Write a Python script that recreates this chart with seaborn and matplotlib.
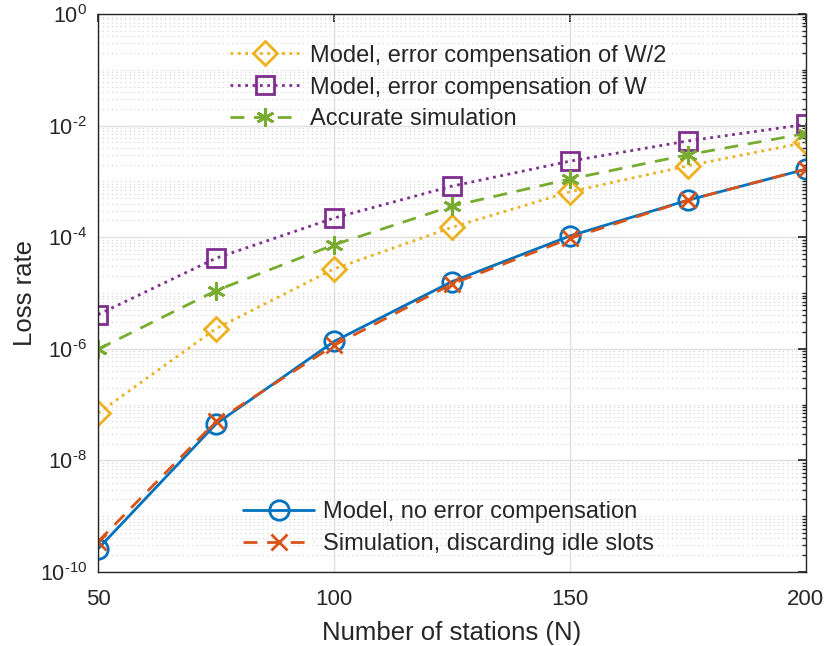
import numpy as np
import pandas as pd
import matplotlib
matplotlib.use("Agg")
import matplotlib.pyplot as plt
import matplotlib.ticker as mticker
import seaborn as sns

stations = [50, 75, 100, 125, 150, 175, 200]

model_half_w = [7e-8, 2.3e-6, 2.7e-5, 1.5e-4, 6.5e-4, 1.9e-3, 5.0e-3]
model_w = [4.1e-6, 4.2e-5, 2.2e-4, 8.2e-4, 2.3e-3, 5.3e-3, 1.05e-2]
accurate_sim = [9.8e-7, 1.1e-5, 7.3e-5, 3.6e-4, 1.1e-3, 3.0e-3, 7.2e-3]
model_no_comp = [2.6e-10, 4.5e-8, 1.35e-6, 1.6e-5, 1.05e-4, 4.6e-4, 1.65e-3]
sim_discard = [3.5e-10, 5.0e-8, 1.15e-6, 1.45e-5, 9.5e-5, 4.6e-4, 1.65e-3]

labels_top = ["Model, error compensation of W/2",
              "Model, error compensation of W",
              "Accurate simulation"]
labels_bottom = ["Model, no error compensation",
                 "Simulation, discarding idle slots"]

sns.set_theme(style="white")
plt.rcParams["font.family"] = ["Liberation Sans", "DejaVu Sans"]
plt.rcParams["mathtext.fontset"] = "custom"
plt.rcParams["mathtext.rm"] = "Liberation Sans"
plt.rcParams["mathtext.default"] = "regular"

fig = plt.figure(figsize=(8.24, 6.46), dpi=100)
ax = fig.add_axes([0.119, 0.1146, 0.859, 0.8638])

series = [
    (model_half_w, labels_top[0], "#EDB120", ":", "D", 12.5),
    (model_w, labels_top[1], "#7E2F8E", ":", "s", 13),
    (accurate_sim, labels_top[2], "#77AC30", (0, (5, 3.5)), (6, 2, 0), 13),
    (model_no_comp, labels_bottom[0], "#0072BD", "-", "o", 14),
    (sim_discard, labels_bottom[1], "#D95319", (0, (5, 3.5)), "x", 12),
]

handles = []
for vals, lab, col, ls, mk, ms in series:
    df = pd.DataFrame({"N": stations, "loss": vals})
    sns.lineplot(data=df, x="N", y="loss", ax=ax, color=col, linestyle=ls,
                 marker=mk, markersize=ms, markerfacecolor="none",
                 markeredgecolor=col, markeredgewidth=2, linewidth=2,
                 label=lab, legend=False)
    handles.append(ax.get_lines()[-1])

ax.set_yscale("log")
ax.set_xlim(50, 200)
ax.set_ylim(1e-10, 1e0)
ax.set_xticks([50, 100, 150, 200])
ax.set_yticks([10.0 ** k for k in range(-10, 1, 2)])
ax.yaxis.set_major_formatter(mticker.FuncFormatter(
    lambda v, p: "$10^{%s}$" % str(round(np.log10(v))).replace("-", "\u2010")))
ax.yaxis.set_minor_locator(mticker.LogLocator(base=10, subs=np.arange(1, 10), numticks=50))
ax.yaxis.set_minor_formatter(mticker.NullFormatter())

ax.grid(True, which="major", color="#e0e0e0", linestyle="-", linewidth=1.0)
ax.grid(True, which="minor", axis="y", color="#d2d2d2", linestyle=(0, (1, 3)), linewidth=0.8)
ax.set_axisbelow(True)

for sp in ax.spines.values():
    sp.set_color("#262626")
    sp.set_linewidth(1.0)
ax.tick_params(which="both", direction="in", top=True, right=True, colors="#262626",
               labelsize=16)
ax.tick_params(axis="x", pad=12)
ax.tick_params(axis="y", pad=8, labelsize=15.5)
ax.tick_params(which="major", length=6)
ax.tick_params(which="minor", length=3)

ax.set_xlabel("Number of stations (N)", fontsize=18.5, color="#262626", labelpad=8)
ax.set_ylabel("Loss rate", fontsize=18.5, color="#262626", labelpad=2)

leg1 = ax.legend(handles[:3], labels_top, loc="upper left", bbox_to_anchor=(0.186, 0.945),
                 frameon=False, fontsize=17, handlelength=3.0, handletextpad=0.4,
                 labelspacing=0.42, borderaxespad=0, borderpad=0)
ax.add_artist(leg1)
ax.legend(handles[3:], labels_bottom, loc="lower left", bbox_to_anchor=(0.205, 0.03),
          frameon=False, fontsize=17, handlelength=3.0, handletextpad=0.4,
          labelspacing=0.42, borderaxespad=0, borderpad=0)

fig.savefig("out.png", dpi=100)
